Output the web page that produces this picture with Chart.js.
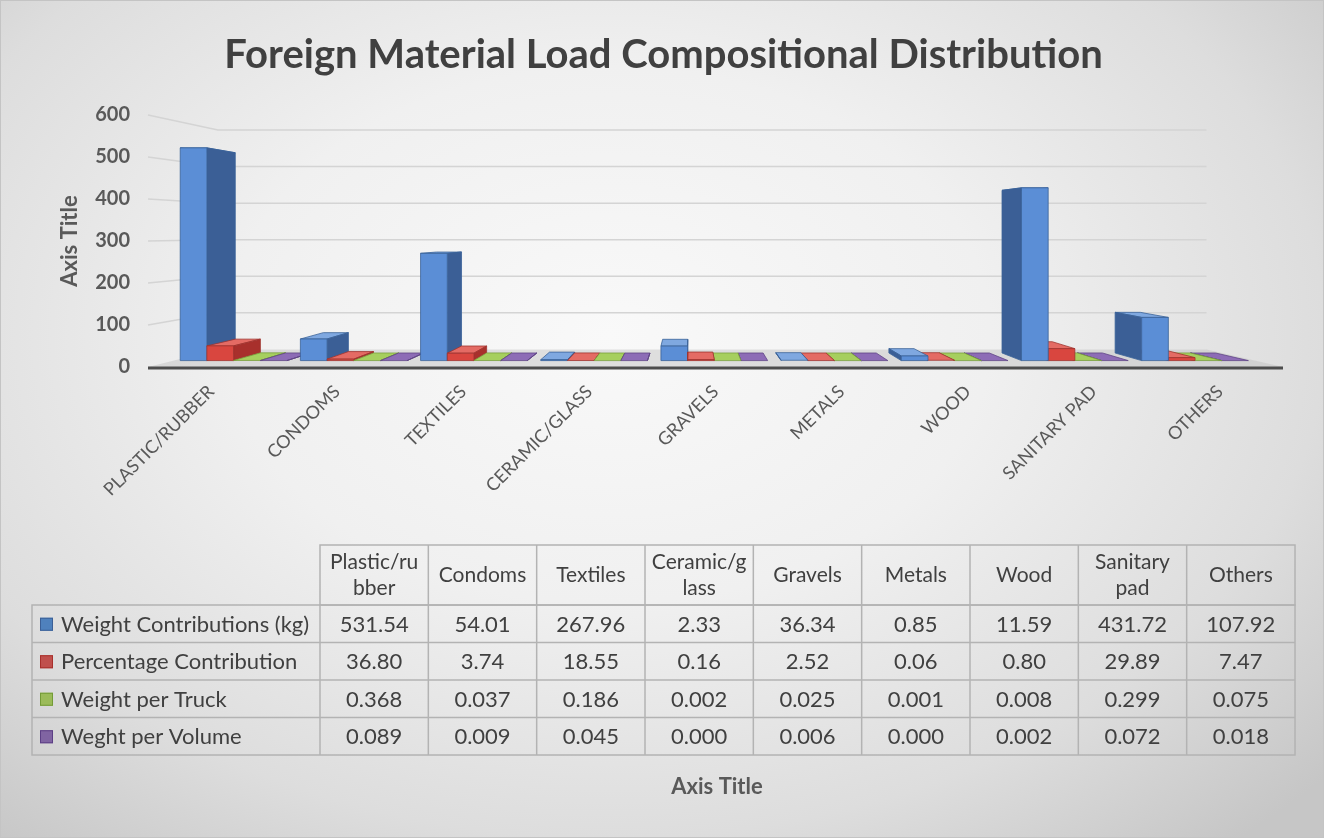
<!DOCTYPE html>
<html lang="en">
<head>
<meta charset="UTF-8">
<title>Foreign Material Load Compositional Distribution</title>
<script src="https://cdn.jsdelivr.net/npm/chart.js@4.4.0/dist/chart.umd.min.js"></script>
<style>
    html, body { margin: 0; padding: 0; }
    body {
        width: 1324px;
        height: 838px;
        overflow: hidden;
        background: radial-gradient(ellipse 72% 80% at 46% 40%, #f9f9f9 0%, #f0f0f0 40%, #dddddd 75%, #c6c6c6 100%);
    }
    #wrap {
        position: relative;
        width: 1324px;
        height: 838px;
        box-sizing: border-box;
        border: 1px solid #c4c4c4;
    }
    canvas { display: block; position: absolute; left: -1px; top: -1px; }
</style>
</head>
<body>
<div id="wrap"><canvas id="chart" width="1324" height="838"></canvas></div>
<script>
    // Data
    const categories = ['Plastic/rubber', 'Condoms', 'Textiles', 'Ceramic/glass', 'Gravels', 'Metals', 'Wood', 'Sanitary pad', 'Others'];
    const headerLines = [['Plastic/ru', 'bber'], ['Condoms'], ['Textiles'], ['Ceramic/g', 'lass'], ['Gravels'], ['Metals'], ['Wood'], ['Sanitary', 'pad'], ['Others']];
    const seriesNames = ['Weight Contributions (kg)', 'Percentage Contribution', 'Weight per Truck', 'Weght per Volume'];
    const weightKg = [531.54, 54.01, 267.96, 2.33, 36.34, 0.85, 11.59, 431.72, 107.92];
    const percentContribution = [36.80, 3.74, 18.55, 0.16, 2.52, 0.06, 0.80, 29.89, 7.47];
    const weightPerTruck = [0.368, 0.037, 0.186, 0.002, 0.025, 0.001, 0.008, 0.299, 0.075];
    const weightPerVolume = [0.089, 0.009, 0.045, 0.000, 0.006, 0.000, 0.002, 0.072, 0.018];
    const tableDecimals = [2, 2, 3, 3];
    const yTicks = [0, 100, 200, 300, 400, 500, 600];

    // colours: key / front face / side face / top face
    const palette = [
        { key: '#4f81bd', front: '#5b8ed6', side: '#3b5f96', top: '#7fa8e0', edge: '#3a6298' },
        { key: '#c0504d', front: '#d9463f', side: '#a8302c', top: '#e46b64', edge: '#a0332f' },
        { key: '#9bbb59', front: '#94c24e', side: '#739b36', top: '#a6cf5e', edge: '#7a9f3e' },
        { key: '#8064a2', front: '#7d58a8', side: '#5c3f85', top: '#8d6cb6', edge: '#5f4585' }
    ];

    const FONT = 'Lato, "Open Sans", sans-serif';
    const TEXT = '#404040';
    const AXIS_TEXT = '#595959';

    // fake 3D: vanishing point and depths (fractions towards it)
    const VP = { x: 690, y: 231 };
    const T_FRONT = 0.047, T_BACK = 0.103, T_WALL = 0.129;
    function proj(x, y, t) {
        return [x + (VP.x - x) * t, y + (VP.y - y) * t];
    }
    function poly(ctx, pts, fill, stroke) {
        ctx.beginPath();
        ctx.moveTo(pts[0][0], pts[0][1]);
        for (let i = 1; i < pts.length; i++) ctx.lineTo(pts[i][0], pts[i][1]);
        ctx.closePath();
        ctx.fillStyle = fill;
        ctx.fill();
        if (stroke) {
            ctx.strokeStyle = stroke;
            ctx.lineWidth = 0.8;
            ctx.stroke();
        }
    }

    const bars3d = {
        id: 'bars3d',
        beforeDatasetsDraw(chart) {
            const ctx = chart.ctx;
            const area = chart.chartArea;
            const yScale = chart.scales.y;
            const base = yScale.getPixelForValue(0);

            ctx.save();
            // back wall gridlines
            ctx.strokeStyle = '#d4d4d4';
            ctx.lineWidth = 1.5;
            yTicks.forEach(v => {
                if (v === 0) return;
                const y = yScale.getPixelForValue(v);
                const a = proj(area.left, y, T_WALL);
                const b = proj(area.right, y, T_WALL);
                ctx.beginPath();
                ctx.moveTo(area.left, y);
                ctx.lineTo(a[0], a[1]);
                ctx.lineTo(b[0], b[1]);
                ctx.stroke();
            });

            // floor
            poly(ctx, [
                [area.left, base], [area.right, base],
                proj(area.right, base, T_WALL), proj(area.left, base, T_WALL)
            ], 'rgba(190,190,190,0.45)');

            // collect boxes from the library's bar elements
            const boxes = [];
            chart.data.datasets.forEach((ds, di) => {
                chart.getDatasetMeta(di).data.forEach(el => {
                    const p = el.getProps(['x', 'y', 'base', 'width'], true);
                    boxes.push({ x0: p.x - p.width / 2, x1: p.x + p.width / 2, top: p.y, bot: p.base, cx: p.x, c: palette[di] });
                });
            });
            // painter's order: farthest from vanishing point first
            boxes.sort((a, b) => Math.abs(b.cx - VP.x) - Math.abs(a.cx - VP.x));

            boxes.forEach(bx => {
                const { x0, x1, top, bot, c } = bx;
                const sx = bx.cx < VP.x ? x1 : x0;
                poly(ctx, [proj(x0, top, T_FRONT), proj(x1, top, T_FRONT), proj(x1, top, T_BACK), proj(x0, top, T_BACK)], c.top, c.edge);
                poly(ctx, [proj(sx, top, T_FRONT), proj(sx, top, T_BACK), proj(sx, bot, T_BACK), proj(sx, bot, T_FRONT)], c.side, c.edge);
                if (bot - top > 0.5) {
                    poly(ctx, [proj(x0, top, T_FRONT), proj(x1, top, T_FRONT), proj(x1, bot, T_FRONT), proj(x0, bot, T_FRONT)], c.front, c.edge);
                }
            });

            // category axis line
            ctx.strokeStyle = '#4d4d4d';
            ctx.lineWidth = 3;
            ctx.beginPath();
            ctx.moveTo(area.left, base + 1);
            ctx.lineTo(area.right, base + 1);
            ctx.stroke();
            ctx.restore();
            return false;
        }
    };

    const dataTable = {
        id: 'dataTable',
        afterDraw(chart) {
            const ctx = chart.ctx;
            const L = 32, C0 = 320, R = 1295, HT = 545, HB = 605, RH = 37.5;
            const cw = (R - C0) / categories.length;
            const rows = [weightKg, percentContribution, weightPerTruck, weightPerVolume];
            const bottom = HB + RH * rows.length;

            ctx.save();
            ctx.strokeStyle = '#b3b3b3';
            ctx.lineWidth = 1.5;
            ctx.strokeRect(C0, HT, R - C0, HB - HT);
            ctx.strokeRect(L, HB, R - L, bottom - HB);
            for (let i = 1; i < categories.length; i++) {
                ctx.beginPath();
                ctx.moveTo(C0 + cw * i, HT);
                ctx.lineTo(C0 + cw * i, bottom);
                ctx.stroke();
            }
            ctx.beginPath();
            ctx.moveTo(C0, HB);
            ctx.lineTo(C0, bottom);
            ctx.stroke();
            for (let r = 1; r < rows.length; r++) {
                ctx.beginPath();
                ctx.moveTo(L, HB + RH * r);
                ctx.lineTo(R, HB + RH * r);
                ctx.stroke();
            }

            ctx.fillStyle = TEXT;
            ctx.font = '21px ' + FONT;
            ctx.textAlign = 'center';
            ctx.textBaseline = 'middle';
            headerLines.forEach((lines, i) => {
                const cx = C0 + cw * (i + 0.5);
                const mid = (HT + HB) / 2;
                lines.forEach((ln, k) => {
                    ctx.fillText(ln, cx, mid + (k - (lines.length - 1) / 2) * 26);
                });
            });

            ctx.font = '22px ' + FONT;
            rows.forEach((vals, r) => {
                const cy = HB + RH * (r + 0.5);
                ctx.textAlign = 'center';
                vals.forEach((v, i) => {
                    ctx.fillText(v.toFixed(tableDecimals[r]), C0 + cw * (i + 0.5), cy + 1);
                });
                // legend key
                ctx.fillStyle = palette[r].key;
                ctx.fillRect(40, cy - 6, 13, 13);
                ctx.strokeStyle = palette[r].side;
                ctx.lineWidth = 1;
                ctx.strokeRect(40.5, cy - 5.5, 12, 12);
                ctx.fillStyle = TEXT;
                ctx.textAlign = 'left';
                ctx.fillText(seriesNames[r], 61, cy + 1);
            });

            // category axis title below the table
            ctx.fillStyle = AXIS_TEXT;
            ctx.font = 'bold 22px ' + FONT;
            ctx.textAlign = 'center';
            ctx.fillText('Axis Title', 717, 787);
            ctx.restore();
        }
    };

    const datasets = [weightKg, percentContribution, weightPerTruck, weightPerVolume].map((vals, i) => ({
        label: seriesNames[i],
        data: vals,
        backgroundColor: palette[i].front,
        categoryPercentage: 0.888,
        barPercentage: 1.0
    }));

    new Chart(document.getElementById('chart'), {
        type: 'bar',
        data: { labels: categories, datasets: datasets },
        options: {
            responsive: false,
            animation: false,
            layout: { padding: { left: 44, right: 41, top: 0, bottom: 0 } },
            plugins: {
                legend: { display: false },
                tooltip: { enabled: false },
                title: {
                    display: true,
                    text: 'Foreign Material Load Compositional Distribution',
                    color: TEXT,
                    font: { family: FONT, size: 40, weight: 'bold' },
                    padding: { top: 31, bottom: 36 }
                }
            },
            scales: {
                x: {
                    offset: true,
                    grid: { display: false, drawTicks: false },
                    border: { display: false },
                    ticks: {
                        color: AXIS_TEXT,
                        font: { family: FONT, size: 18 },
                        minRotation: 45,
                        maxRotation: 45,
                        padding: 14,
                        autoSkip: false,
                        callback: (v) => categories[v].toUpperCase()
                    },
                    afterFit: (s) => { s.height = 471; }
                },
                y: {
                    min: 0,
                    max: 600,
                    afterBuildTicks: (s) => { s.ticks = yTicks.map(v => ({ value: v })); },
                    grid: { display: false, drawTicks: false },
                    border: { display: false },
                    ticks: {
                        color: AXIS_TEXT,
                        font: { family: FONT, size: 20, weight: 'bold' },
                        padding: 18
                    },
                    title: {
                        display: true,
                        text: 'Axis Title',
                        color: AXIS_TEXT,
                        font: { family: FONT, size: 22, weight: 'bold' },
                        padding: { top: 13, bottom: 0 }
                    },
                    afterFit: (s) => { s.width = 104; }
                }
            }
        },
        plugins: [bars3d, dataTable]
    });
</script>
</body>
</html>
